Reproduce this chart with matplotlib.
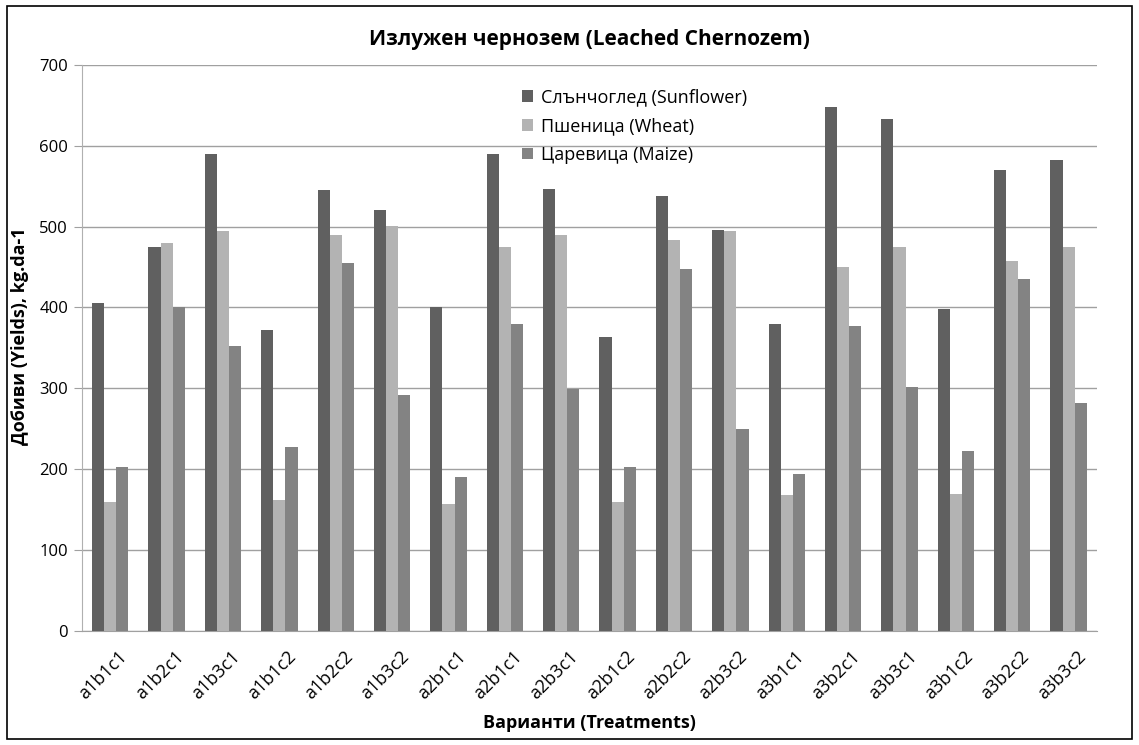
import matplotlib
matplotlib.use("Agg")
import matplotlib.pyplot as plt
import matplotlib.transforms as mtransforms
import numpy as np
from matplotlib.patches import Rectangle

categories = ["a1b1c1", "a1b2c1", "a1b3c1", "a1b1c2", "a1b2c2", "a1b3c2",
              "a2b1c1", "a2b1c1", "a2b3c1", "a2b1c2", "a2b2c2", "a2b3c2",
              "a3b1c1", "a3b2c1", "a3b3c1", "a3b1c2", "a3b2c2", "a3b3c2"]
sunflower = [406, 475, 590, 372, 545, 520, 400, 590, 547, 364, 538, 496, 380, 648, 633, 398, 570, 582]
wheat = [160, 480, 494, 162, 490, 501, 157, 475, 490, 160, 483, 494, 168, 450, 475, 170, 458, 475]
maize = [203, 400, 352, 228, 455, 292, 191, 379, 299, 203, 447, 250, 194, 377, 302, 222, 435, 282]
series_names = ["Слънчоглед (Sunflower)", "Пшеница (Wheat)", "Царевица (Maize)"]
y_ticks = [0, 100, 200, 300, 400, 500, 600, 700]

plt.rcParams['font.family'] = ['Open Sans', 'DejaVu Sans']

fig = plt.figure(figsize=(11.39, 7.45), dpi=100)
ax = fig.add_axes([0.072, 0.153, 0.891, 0.760])

x = np.arange(len(categories))
w = 0.215
colors = ["#606060", "#b3b3b3", "#838383"]
for i, (vals, name) in enumerate(zip([sunflower, wheat, maize], series_names)):
    ax.bar(x + (i - 1) * w, vals, width=w, color=colors[i], label=name, zorder=3)

ax.set_xlim(-0.5, len(categories) - 0.5)
ax.set_ylim(0, 700)
ax.set_yticks(y_ticks)
ax.tick_params(axis='y', labelsize=12, length=6, color="#a0a0a0", pad=4)
ax.tick_params(axis='x', labelsize=13, length=0, pad=12)
ax.set_xticks(x)
ax.set_xticklabels(categories, rotation=45, ha='right', rotation_mode='anchor')
offset = mtransforms.ScaledTranslation(8 / 100, 0, fig.dpi_scale_trans)
for lab in ax.get_xticklabels():
    lab.set_transform(lab.get_transform() + offset)
ax.grid(axis='y', color="#a0a0a0", linewidth=1, zorder=0)
for s in ['top', 'right']:
    ax.spines[s].set_visible(False)
ax.spines['left'].set_color("#b0b0b0")
ax.spines['bottom'].set_color("#a0a0a0")

ax.set_title("Излужен чернозем (Leached Chernozem)", fontsize=15, fontweight='bold', pad=14)
ax.set_xlabel("Варианти (Treatments)", fontsize=13, fontweight='bold', labelpad=8)
ax.set_ylabel("Добиви (Yields), kg.da-1", fontsize=13, fontweight='bold')
ax.yaxis.set_label_coords(-0.052, 0.52)

leg = ax.legend(loc='upper left', bbox_to_anchor=(0.418, 0.987), frameon=False,
                fontsize=13, handlelength=0.6, handleheight=0.6, handletextpad=0.4,
                labelspacing=0.6)

fig.patches.append(Rectangle((0.006, 0.008), 0.988, 0.984, transform=fig.transFigure,
                             fill=False, edgecolor="black", linewidth=1.2))

fig.savefig("out.png", dpi=100)
